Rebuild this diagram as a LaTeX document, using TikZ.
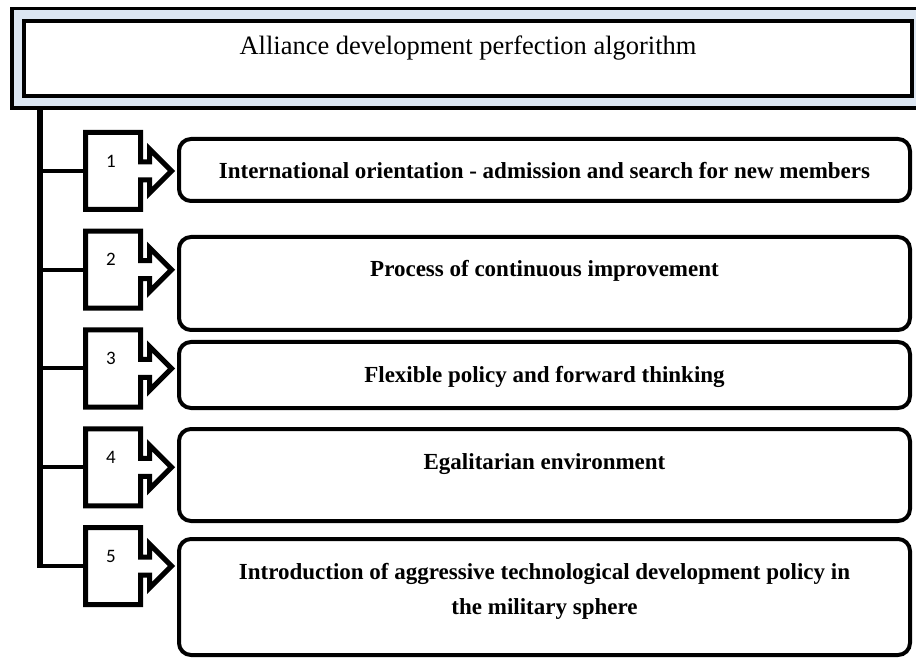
\documentclass[tikz,border=0pt]{standalone}
\usepackage{fontspec}
\setmainfont{Liberation Serif}
\newfontfamily\numfont{Carlito}
\usetikzlibrary{shapes.arrows,calc}
\definecolor{titleblue}{RGB}{220,230,242}
\newcommand{\topbox}[2]{\parbox[c][#1][t]{731pt}{\centering\vspace*{15.5pt}\strut #2}}

\begin{document}
\begin{tikzpicture}[x=1pt,y=-1pt]
\tikzstyle{numbox}=[draw, line width=5pt, shape=arrow box, arrow box arrows={east:31pt}, arrow box shaft width=18pt, arrow box head extend=13pt, minimum width=55pt, minimum height=77pt, inner sep=0pt, outer sep=0pt]
\tikzstyle{stepbox}=[draw, line width=4pt, rounded corners=12pt, inner sep=0pt, outer sep=0pt, anchor=north west, font=\fontsize{23}{35}\selectfont\bfseries]
\tikzstyle{numtext}=[font=\numfont\fontsize{19}{19}\selectfont]
\tikzstyle{branch}=[line width=4pt]
\useasboundingbox (0,0) rectangle (916,660);

% Title block
\node[draw, line width=3.5pt, fill=titleblue, minimum width=918pt, minimum height=99.5pt, inner sep=0pt, outer sep=0pt] (frame) at (470.75,58.25) {};
\node[draw, line width=4.5pt, fill=white, minimum width=888pt, minimum height=75pt, inner sep=0pt, outer sep=0pt] (title) at (468,58.5) {};
\node[font=\fontsize{26.5}{30}\selectfont] (titletext) at (468,48) {Alliance development perfection algorithm};

% Numbered arrows
\node[numbox] (num1) at (113,171) {};
\node[numbox] (num2) at (113,269.75) {};
\node[numbox] (num3) at (113,368.5) {};
\node[numbox] (num4) at (113,467.25) {};
\node[numbox] (num5) at (113,566) {};
\node[numtext] (lab1) at ($(num1.center)+(-2,-10)$) {1};
\node[numtext] (lab2) at ($(num2.center)+(-2,-10)$) {2};
\node[numtext] (lab3) at ($(num3.center)+(-2,-10)$) {3};
\node[numtext] (lab4) at ($(num4.center)+(-2,-10)$) {4};
\node[numtext] (lab5) at ($(num5.center)+(-2,-10)$) {5};

% Steps
\node[stepbox] (step1) at (179,139) {\topbox{62pt}{International orientation - admission and search for new members}};
\node[stepbox] (step2) at (179,237) {\topbox{93pt}{Process of continuous improvement}};
\node[stepbox] (step3) at (179,342) {\topbox{66pt}{Flexible policy and forward thinking}};
\node[stepbox] (step4) at (179,429) {\topbox{92pt}{Egalitarian environment}};
\node[stepbox] (step5) at (179,539) {\topbox{116pt}{Introduction of aggressive technological development policy in\\the military sphere}};

% Trunk and branches
\coordinate (trunkx) at (40,0);
\coordinate (trunktop) at (frame.south -| trunkx);
\coordinate (trunkend) at ($(num5.west -| trunkx)+(0,2)$);
\draw[line width=6pt] (trunktop) -- (trunkend);
\draw[branch] (num1.west -| trunkx) -- (num1.west);
\draw[branch] (num2.west -| trunkx) -- (num2.west);
\draw[branch] (num3.west -| trunkx) -- (num3.west);
\draw[branch] (num4.west -| trunkx) -- (num4.west);
\draw[branch] (num5.west -| trunkx) -- (num5.west);
\end{tikzpicture}
\end{document}
